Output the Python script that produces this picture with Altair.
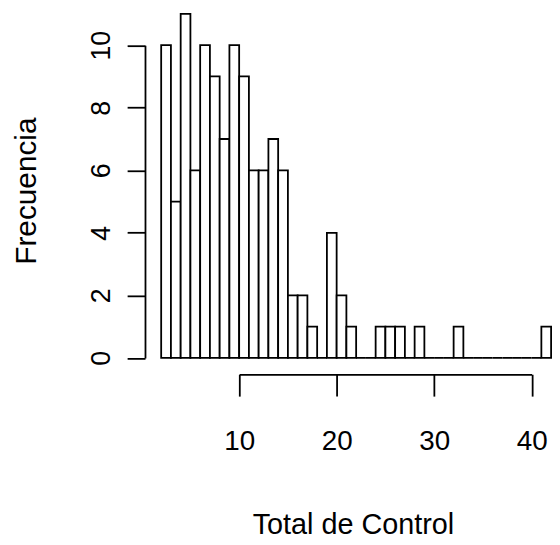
import altair as alt
import pandas as pd

# Histogram bins (left edges, width 1) and counts
bin_start = [2, 3, 4, 5, 6, 7, 8, 9, 10, 11, 12, 13, 14, 15, 16, 17, 18, 19, 20, 21,
             22, 23, 24, 25, 26, 27, 28, 29, 30, 31, 32, 33, 34, 35, 36, 37, 38, 39, 40, 41]
counts = [10, 5, 11, 6, 10, 9, 7, 10, 9, 6, 6, 7, 6, 2, 2, 1, 0, 4, 2, 1,
          0, 0, 1, 1, 1, 0, 1, 0, 0, 0, 1, 0, 0, 0, 0, 0, 0, 0, 0, 1]
bin_width = 1
x_ticks = [10, 20, 30, 40]
y_ticks = [0, 2, 4, 6, 8, 10]

df = pd.DataFrame({
    "start": bin_start,
    "end": [s + bin_width for s in bin_start],
    "count": counts,
})
ticks_df = pd.DataFrame({"t": x_ticks})

FONT = "Liberation Sans"
LW = 1.8

y_scale = alt.Scale(domain=[0, 10], range=[350.5, 35.5], nice=False, zero=False)

bars = alt.Chart(df).mark_rect(fill="white", stroke="black", strokeWidth=LW).encode(
    x=alt.X("start:Q", scale=alt.Scale(domain=[2, 42], range=[16.3, 409.1], nice=False, zero=False), axis=None),
    x2="end:Q",
    y=alt.Y("count:Q", scale=y_scale,
            axis=alt.Axis(values=y_ticks, title="Frecuencia", grid=False,
                          domainColor="black", domainWidth=LW, tickColor="black", tickWidth=LW,
                          tickSize=18, labelAngle=270, labelAlign="center", labelBaseline="bottom",
                          labelPadding=12, labelFont=FONT, labelFontSize=27, labelColor="black",
                          labelFlush=False, labelOverlap=False,
                          titleFont=FONT, titleFontSize=30, titleFontWeight="normal", titleColor="black",
                          titleAngle=270, titleAlign="center", titleBaseline="middle",
                          titleX=-119, titleY=182)),
    y2=alt.datum(0),
)

xaxis = alt.Chart(ticks_df).mark_tick(opacity=0).encode(
    x=alt.X("t:Q", scale=alt.Scale(domain=[10, 40], range=[94.9, 389.5], nice=False, zero=False),
            axis=alt.Axis(values=x_ticks, title="Total de Control", grid=False,
                          domainColor="black", domainWidth=LW, tickColor="black", tickWidth=LW,
                          tickSize=22, labelPadding=32, labelFont=FONT, labelFontSize=28,
                          labelColor="black", labelFlush=False, labelOverlap=False,
                          titleFont=FONT, titleFontSize=29, titleFontWeight="normal", titleColor="black",
                          titleAlign="center", titleBaseline="middle", titleX=209.5, titleY=151)),
)

chart = alt.layer(bars, xaxis).resolve_scale(x="independent").properties(
    width=410, height=367,
    padding={"left": 138, "top": 0, "right": 0, "bottom": 168},
    autosize=alt.AutoSizeParams(type="none"),
    background="white",
).configure_view(stroke=None)

chart.save("out.html", embed_options={"renderer": "svg", "actions": False})
